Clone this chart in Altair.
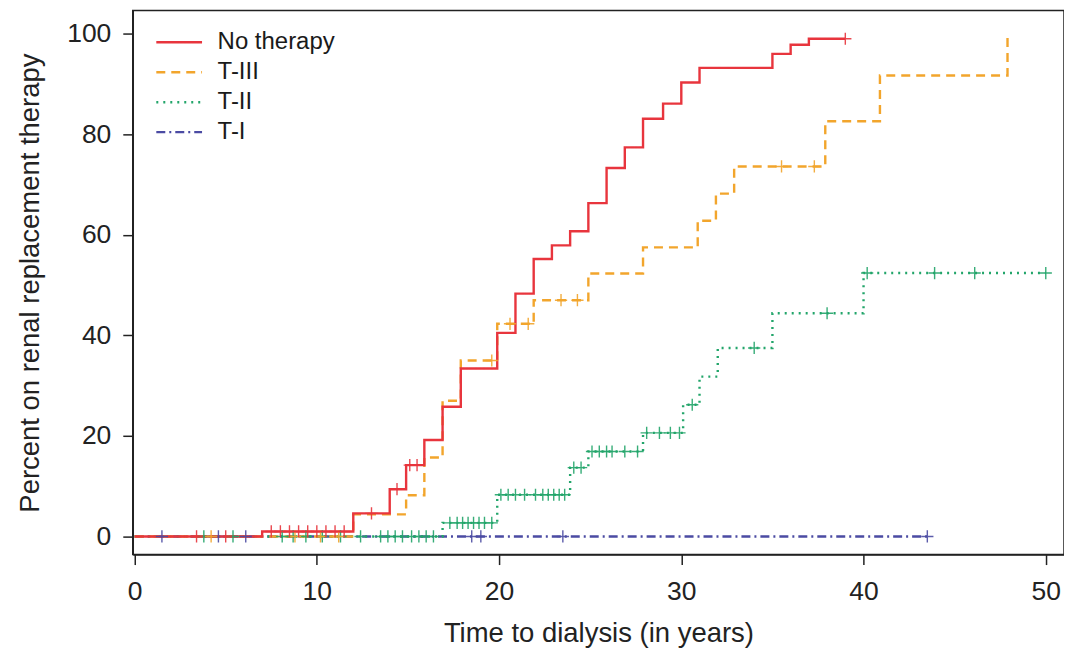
import altair as alt
import pandas as pd

# ---- data ----
groups = ["No therapy", "T-III", "T-II", "T-I"]
colors = ["#e8353d", "#f2a52c", "#22a56a", "#4b4ba3"]
dashes = [[1, 0], [9, 6], [2, 5], [9, 4, 2, 4]]

red_t = [0, 7.0, 12.0, 14.0, 14.9, 15.9, 16.9, 17.9, 19.9, 20.9, 21.9, 22.9, 23.9,
         24.9, 25.9, 26.9, 27.9, 29.0, 30.0, 31.0, 35.0, 36.0, 37.0, 39.0]
red_y = [0, 1.0, 4.6, 9.4, 14.2, 19.2, 25.8, 33.4, 40.5, 48.3, 55.2, 57.9, 60.7,
         66.3, 73.3, 77.4, 83.1, 86.1, 90.3, 93.2, 96.0, 97.8, 99.0, 99.0]
red_c = [3.4, 5.0, 7.5, 8.0, 8.5, 9.0, 9.5, 10.0, 10.5, 11.0, 11.5, 13.0, 14.4, 15.1,
         15.5, 39.0]

t3_t = [0, 12.0, 14.9, 15.9, 16.9, 17.9, 19.9, 21.9, 24.9, 27.9, 30.9, 31.9, 32.9,
        37.9, 40.9, 47.9]
t3_y = [0, 4.4, 8.2, 15.7, 27.0, 35.0, 42.3, 47.0, 52.3, 57.5, 62.8, 68.2, 73.6,
        82.6, 91.7, 100.0]
t3_c = [4.2, 8.8, 10.2, 11.2, 19.6, 20.6, 21.6, 23.4, 24.3, 35.5, 37.3]

t2_t = [0, 16.9, 19.9, 23.9, 24.9, 27.9, 30.1, 31.0, 32.0, 35.0, 40.0, 50.0]
t2_y = [0, 2.7, 8.3, 13.7, 16.9, 20.6, 26.2, 31.8, 37.5, 44.4, 52.4, 52.4]
t2_c = [3.8, 5.4, 8.1, 8.7, 9.4, 10.3, 11.3, 12.4, 13.5, 13.9, 14.3, 14.7, 15.2,
        15.6, 16.0, 16.4, 17.3, 17.7, 18.0, 18.3, 18.6, 18.9, 19.2, 19.6, 20.1,
        20.5, 20.9, 21.4, 22.0, 22.4, 22.7, 23.0, 23.3, 23.6, 24.1, 24.5, 25.1,
        25.5, 25.9, 26.2, 26.9, 27.6, 28.1, 28.8, 29.4, 29.9, 30.6, 34.0, 38.0,
        40.2, 43.9, 46.1, 50.0]

t1_t = [0, 43.5]
t1_y = [0, 0]
t1_c = [1.5, 4.6, 6.1, 18.5, 19.0, 23.5, 43.5]

x_ticks = [0, 10, 20, 30, 40, 50]
y_ticks = [0, 20, 40, 60, 80, 100]

series = {
    "No therapy": (red_t, red_y, red_c),
    "T-III": (t3_t, t3_y, t3_c),
    "T-II": (t2_t, t2_y, t2_c),
    "T-I": (t1_t, t1_y, t1_c),
}


def step_value(ts, ys, x):
    v = ys[0]
    for t, y in zip(ts, ys):
        if t <= x:
            v = y
    return v


line_rows, cens_rows = [], []
# draw order: T-I first, No therapy last (on top)
for g in ["T-I", "T-II", "T-III", "No therapy"]:
    ts, ys, cs = series[g]
    for t, y in zip(ts, ys):
        line_rows.append({"group": g, "t": t, "y": y})
    for c in cs:
        cens_rows.append({"group": g, "t": c, "y": step_value(ts, ys, c)})

lines_df = pd.DataFrame(line_rows)
cens_df = pd.DataFrame(cens_rows)

FONT = "Liberation Sans"

xscale = alt.Scale(domain=[-0.1, 51.0], nice=False, zero=False)
yscale = alt.Scale(domain=[-3.6, 104.6], nice=False, zero=False)
cscale = alt.Scale(domain=groups, range=colors)
dscale = alt.Scale(domain=groups, range=dashes)

xaxis = alt.Axis(values=x_ticks, title="Time to dialysis (in years)", format="d",
                 labelPadding=14, titlePadding=15)
yaxis = alt.Axis(values=y_ticks, title="Percent on renal replacement therapy", format="d",
                 labelPadding=12, titlePadding=22)

legend = alt.Legend(title=None, orient="none", legendX=22, legendY=17,
                    symbolType="stroke", symbolSize=2100,
                    symbolStrokeWidth=2.4, labelFontSize=24,
                    labelFont=FONT, labelColor="#1a1a1a",
                    clipHeight=29.5, rowPadding=0, labelOffset=14, padding=0)

lines = alt.Chart(lines_df).mark_line(interpolate="step-after", strokeWidth=2.4).encode(
    x=alt.X("t:Q", scale=xscale, axis=xaxis),
    y=alt.Y("y:Q", scale=yscale, axis=yaxis),
    color=alt.Color("group:N", scale=cscale, sort=groups, legend=legend),
    strokeDash=alt.StrokeDash("group:N", scale=dscale, sort=groups, legend=legend),
    detail="group:N",
)

cross = "M-1,0L1,0M0,-1L0,1"
marks = alt.Chart(cens_df).mark_point(shape=cross, size=150, strokeWidth=1.4,
                                      filled=False, opacity=0.9).encode(
    x=alt.X("t:Q", scale=xscale),
    y=alt.Y("y:Q", scale=yscale),
    stroke=alt.Stroke("group:N", scale=cscale, legend=None),
)

chart = alt.layer(lines, marks).properties(
    width=933, height=545,
    padding={"left": 8, "top": 2, "right": 0, "bottom": 0},
    background="white",
).configure_view(
    stroke="#222", strokeWidth=1.5
).configure_axis(
    labelFont=FONT, titleFont=FONT, labelFontSize=26.5, titleFontSize=27.5,
    labelColor="#222", titleColor="#222", titleFontWeight="normal",
    domainColor="#222", tickColor="#222", tickSize=10, domainWidth=1.5, tickWidth=1.5,
    grid=False,
)

chart.save("out.html", embed_options={"renderer": "svg", "actions": False})
